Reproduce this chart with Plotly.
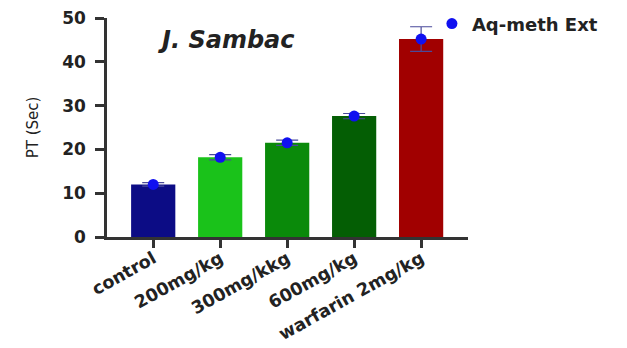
import plotly.graph_objects as go

categories = ["control", "200mg/kg", "300mg/kkg", "600mg/kg", "warfarin 2mg/kg"]
values = [12.0, 18.2, 21.5, 27.6, 45.2]
errors = [0.4, 0.6, 0.6, 0.6, 2.8]
bar_colors = ["#0c0c85", "#1ac21a", "#0a8a0a", "#045e04", "#a10000"]
series_name = "Aq-meth Ext"
y_ticks = [0, 10, 20, 30, 40, 50]

FONT = "DejaVu Sans, Liberation Sans, Arial"

fig = go.Figure()
fig.add_trace(go.Bar(x=categories, y=values, marker_color=bar_colors,
                     marker_line_width=0, width=0.66, showlegend=False,
                     error_y=dict(type="data", array=errors, color="#4a4a9a",
                                  thickness=1.2, width=11)))
fig.add_trace(go.Scatter(x=categories, y=values, mode="markers",
                         name="<b>%s</b>" % series_name,
                         marker=dict(color="#1010f0", size=11)))

fig.update_layout(
    width=627, height=348,
    margin=dict(l=99, r=167, t=10, b=119, autoexpand=False),
    paper_bgcolor="white", plot_bgcolor="white",
    font=dict(family=FONT, color="#222"),
    showlegend=True,
    legend=dict(x=0.90, y=0.973, xanchor="left", yanchor="middle",
                font=dict(size=18, family=FONT, color="#222"),
                itemwidth=30, tracegroupgap=0, bgcolor="rgba(0,0,0,0)"),
    annotations=[dict(text="<b><i>J. Sambac</i></b>", x=0.33, y=0.90,
                      xref="paper", yref="paper", xanchor="center", yanchor="middle",
                      showarrow=False,
                      font=dict(size=24, color="#222", family=FONT))],
)
fig.update_xaxes(range=[-0.69, 4.70], showline=True, linecolor="#333", linewidth=2.5,
                 ticks="outside", ticklen=8, tickwidth=2.5, tickcolor="#333",
                 tickangle=-29, tickfont=dict(size=17.5, color="#222", family=FONT),
                 ticktext=["<b>%s</b>" % c for c in categories], tickvals=categories,
                 ticklabeloverflow="allow", ticklabelstandoff=-6,
                 showgrid=False, zeroline=False)
fig.update_yaxes(range=[0, 50], tickvals=y_ticks, ticktext=["<b>%d</b>" % t for t in y_ticks],
                 showline=True, linecolor="#333", linewidth=2.5,
                 ticks="outside", ticklen=9, tickwidth=2.5, tickcolor="#333",
                 ticklabelstandoff=6, ticklabeloverflow="allow",
                 tickfont=dict(size=17, color="#222", family=FONT), showgrid=False, zeroline=False,
                 title=dict(text="PT (Sec)", font=dict(size=15, color="#222", family=FONT), standoff=20))

fig.write_html("out.html")
